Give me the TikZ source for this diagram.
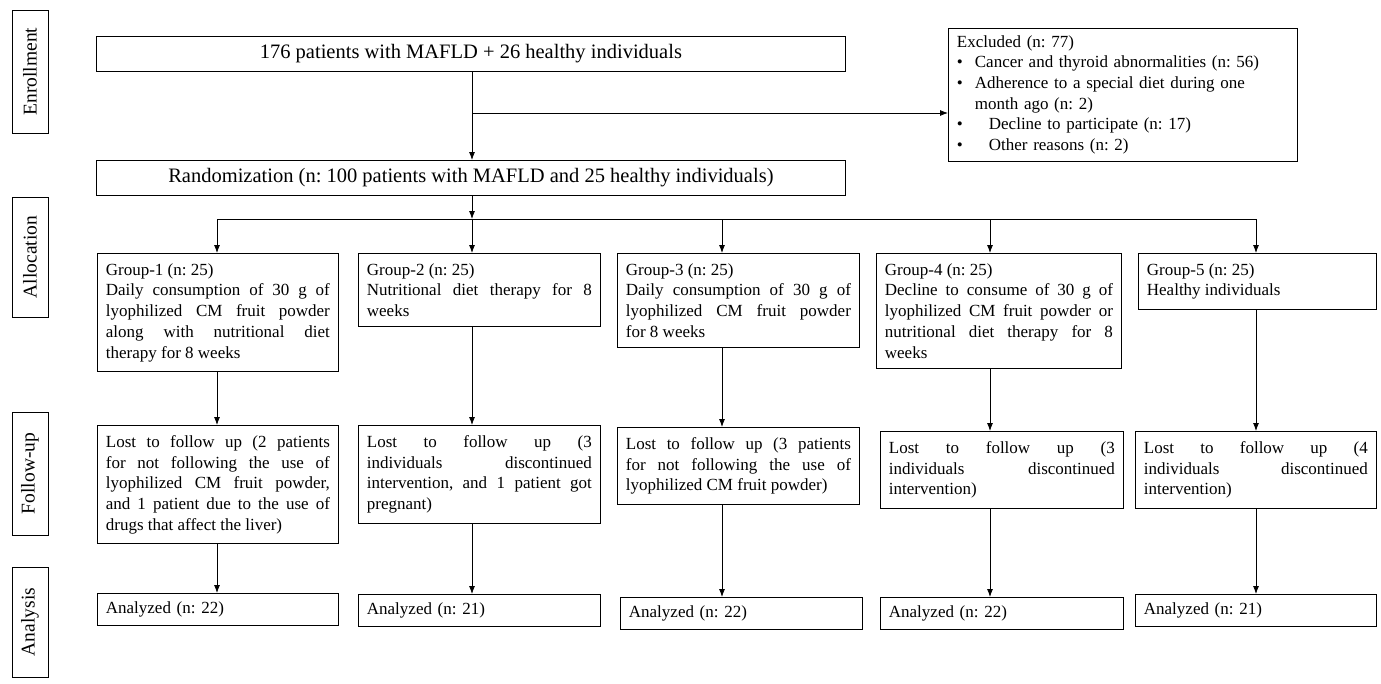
\documentclass[tikz,border=0pt]{standalone}
\usepackage{fontspec}
\setmainfont{Liberation Serif}
\usetikzlibrary{arrows.meta}
\frenchspacing

\tikzset{
    box/.style={draw, line width=0.8pt, anchor=north west, inner xsep=8.5pt, inner ysep=10pt,
        font=\fontsize{17}{20.7}\selectfont},
    grpbox/.style={box, align=justify},
    anbox/.style={box, align=left, inner ysep=6pt, minimum height=32pt},
    wide/.style={draw, line width=0.8pt, anchor=north west, minimum height=35pt,
        font=\fontsize{20.5}{24}\selectfont},
    stage/.style={draw, line width=0.8pt, rotate=90, minimum height=36pt,
        font=\fontsize{19.5}{22}\selectfont},
}

\begin{document}
\begin{tikzpicture}[x=1pt,y=-1pt,>={Latex[length=8pt,width=6pt]},line width=0.8pt]
    \useasboundingbox (0,0) rectangle (1381,683);

    % stages on the left
    \node (enr) [stage,minimum width=123pt] at (30,71.5) {Enrollment};
    \node (all) [stage,minimum width=120pt] at (30,257) {Allocation};
    \node (fol) [stage,minimum width=123pt] at (30,473.5) {Follow-up};
    \node (ana) [stage,minimum width=110pt] at (30,622) {Analysis};

    % enrollment
    \node (top) [wide,minimum width=749pt] at (96,36) {176 patients with MAFLD + 26 healthy individuals};
    \node (rand) [wide,minimum width=749pt] at (96,160) {Randomization (n: 100 patients with MAFLD and 25 healthy individuals)};
    \node (excl) [box,text width=332pt,align=left,inner ysep=7pt] at (948,28) {Excluded (n: 77)\\
        \makebox[18pt][l]{\textbullet}Cancer and thyroid abnormalities (n: 56)\\
        \makebox[18pt][l]{\textbullet}Adherence to a special diet during one\\
        \hspace*{18pt}month ago (n: 2)\\
        \makebox[32pt][l]{\textbullet}Decline to participate (n: 17)\\
        \makebox[32pt][l]{\textbullet}Other reasons (n: 2)};

    % groups
    \node (g1) [grpbox,text width=224pt] at (97,253) {Group-1 (n: 25)\\ Daily consumption of 30 g of\linebreak lyophilized CM fruit powder\linebreak along with nutritional diet\linebreak therapy for 8 weeks};
    \node (g2) [grpbox,text width=225pt] at (358,253) {Group-2 (n: 25)\\ Nutritional diet therapy for 8\linebreak weeks};
    \node (g3) [grpbox,text width=225pt] at (617,253) {Group-3 (n: 25)\\ Daily consumption of 30 g of\linebreak lyophilized CM fruit powder\linebreak for 8 weeks};
    \node (g4) [grpbox,text width=228pt] at (876,253) {Group-4 (n: 25)\\ Decline to consume of 30 g of\linebreak lyophilized CM fruit powder or\linebreak nutritional diet therapy for 8\linebreak weeks};
    \node (g5) [grpbox,text width=221pt] at (1138,253) {Group-5 (n: 25)\\ Healthy individuals};

    % follow-up
    \node (f1) [grpbox,text width=224pt] at (97,425) {Lost to follow up (2 patients\linebreak for not following the use of\linebreak lyophilized CM fruit powder,\linebreak and 1 patient due to the use of\linebreak drugs that affect the liver)};
    \node (f2) [grpbox,text width=225pt] at (358,425) {Lost to follow up (3\linebreak individuals discontinued\linebreak intervention, and 1 patient got\linebreak pregnant)};
    \node (f3) [grpbox,text width=225pt] at (617,427) {Lost to follow up (3 patients\linebreak for not following the use of\linebreak lyophilized CM fruit powder)};
    \node (f4) [grpbox,text width=226pt] at (880,431) {Lost to follow up (3\linebreak individuals discontinued\linebreak intervention)};
    \node (f5) [grpbox,text width=224pt] at (1135,431) {Lost to follow up (4\linebreak individuals discontinued\linebreak intervention)};

    % analysis
    \node (a1) [anbox,text width=224pt] at (97,593) {Analyzed (n: 22)};
    \node (a2) [anbox,text width=225pt] at (358,594) {Analyzed (n: 21)};
    \node (a3) [anbox,text width=225pt] at (620,597) {Analyzed (n: 22)};
    \node (a4) [anbox,text width=226pt] at (880,597) {Analyzed (n: 22)};
    \node (a5) [anbox,text width=224pt] at (1135,594) {Analyzed (n: 21)};

    % connectors
    \coordinate (br) at (472,113);
    \coordinate (x1) at (217,219);
    \coordinate (x2) at (472,219);
    \coordinate (x3) at (722,219);
    \coordinate (x4) at (990,219);
    \coordinate (x5) at (1256,219);
    \draw [->] (top.south -| br) -- (rand.north -| br);
    \draw [->] (br) -- (br -| excl.west);
    \draw [->] (rand.south -| x2) -- (x2);
    \draw (x1) -- (x5);
    \foreach \i in {1,...,5} {
        \draw [->] (x\i) -- (x\i |- g\i.north);
        \draw [->] (x\i |- g\i.south) -- (x\i |- f\i.north);
        \draw [->] (x\i |- f\i.south) -- (x\i |- a\i.north);
    }
\end{tikzpicture}
\end{document}
